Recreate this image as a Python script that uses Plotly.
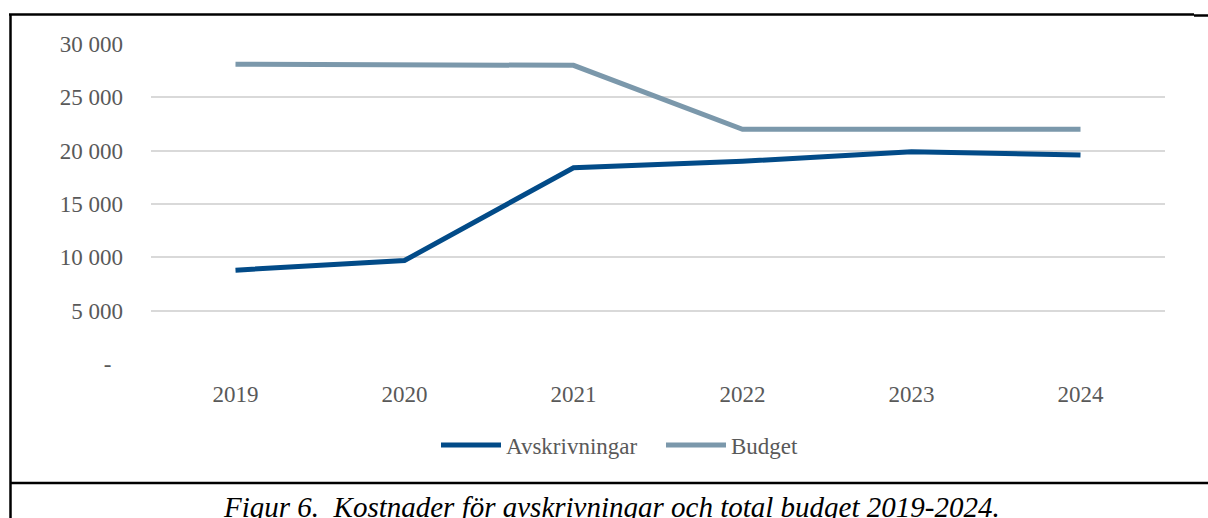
import plotly.graph_objects as go

# Data
years = ["2019", "2020", "2021", "2022", "2023", "2024"]
avskrivningar = [8800, 9700, 18400, 19000, 19900, 19600]
budget = [28100, 28000, 28000, 22000, 22000, 22000]

y_tick_vals = [0, 5000, 10000, 15000, 20000, 25000, 30000]
y_tick_text = ["-\u00a0\u00a0", "5 000", "10 000", "15 000", "20 000", "25 000", "30 000"]

caption = "<i>Figur 6.\u00a0 Kostnader för avskrivningar och total budget 2019-2024.</i>"

W, H = 1208, 518
ML, MR, MT, MB = 151, 43, 44, 154
PW, PH = W - ML - MR, H - MT - MB

def px_x(px):
    return (px - ML) / PW

def px_y(py):
    return (H - MB - py) / PH

SERIF = "Liberation Serif, Times New Roman, serif"
GREY_TXT = "#595959"

fig = go.Figure()
fig.add_trace(go.Scatter(
    x=years, y=avskrivningar, name="Avskrivningar", mode="lines",
    line=dict(color="#024B88", width=5),
))
fig.add_trace(go.Scatter(
    x=years, y=budget, name="Budget", mode="lines",
    line=dict(color="#7B98AB", width=5),
))

# page frame lines around the figure
border = dict(type="line", xref="paper", yref="paper", line=dict(color="black", width=2.5))
shapes = [
    dict(border, x0=px_x(9), x1=px_x(1194), y0=px_y(14.5), y1=px_y(14.5)),
    dict(border, x0=px_x(1194), x1=px_x(1208), y0=px_y(15.5), y1=px_y(15.5)),
    dict(border, x0=px_x(10.5), x1=px_x(10.5), y0=px_y(14), y1=px_y(518)),
    dict(border, x0=px_x(10), x1=px_x(1208), y0=px_y(483), y1=px_y(483)),
]

fig.update_layout(
    width=W, height=H,
    margin=dict(l=ML, r=MR, t=MT, b=MB, pad=0),
    paper_bgcolor="white", plot_bgcolor="white",
    font=dict(family=SERIF, size=23, color=GREY_TXT),
    showlegend=True,
    legend=dict(
        orientation="h", xanchor="left", yanchor="middle",
        x=px_x(436), y=px_y(445),
        font=dict(family=SERIF, size=23, color=GREY_TXT),
        itemwidth=60, entrywidth=150, tracegroupgap=0, bgcolor="rgba(0,0,0,0)",
    ),
    xaxis=dict(
        type="category", range=[-0.5, 5.5], showgrid=False, showline=False,
        zeroline=False, ticks="", ticklabelstandoff=14,
        tickfont=dict(family=SERIF, size=23, color=GREY_TXT),
    ),
    yaxis=dict(
        range=[0, 30000], tickvals=y_tick_vals, ticktext=y_tick_text,
        showgrid=True, gridcolor="#D9D9D9", gridwidth=1.5,
        zeroline=False, showline=False, ticks="", ticklabelstandoff=27,
        tickfont=dict(family=SERIF, size=23, color=GREY_TXT),
    ),
    shapes=shapes,
    annotations=[dict(
        text=caption, xref="paper", yref="paper",
        x=px_x(611), y=px_y(507), xanchor="center", yanchor="middle",
        showarrow=False, font=dict(family=SERIF, size=29, color="black"),
    )],
)

fig.write_html("out.html")
